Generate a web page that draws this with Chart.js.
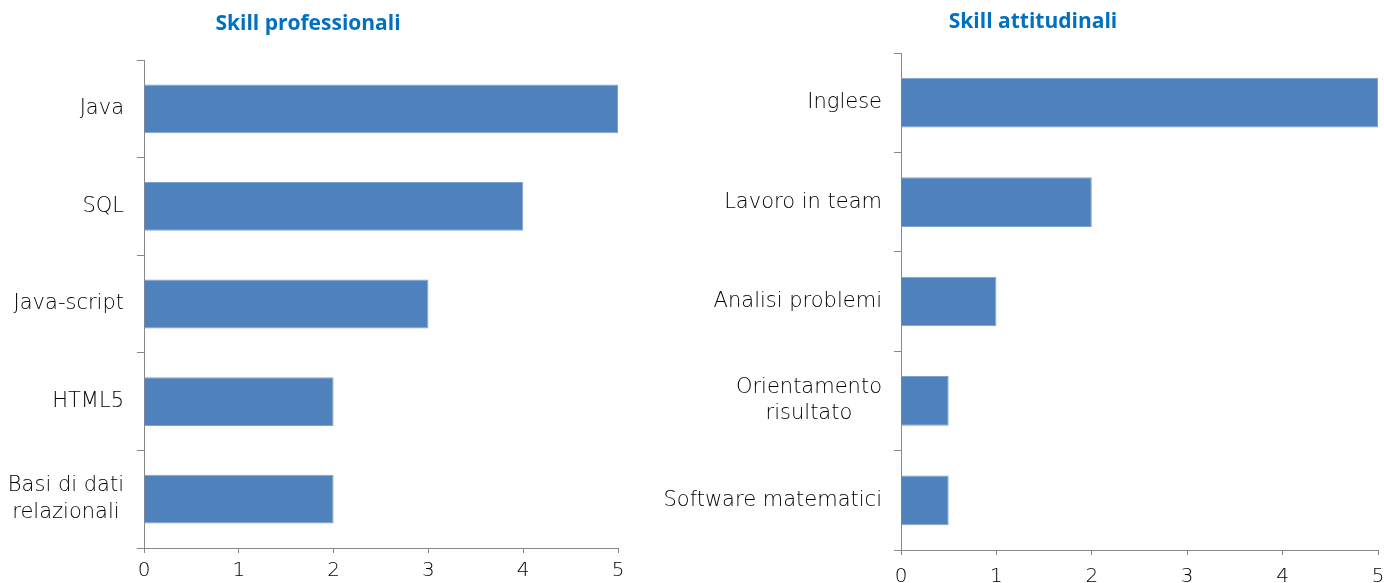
<!DOCTYPE html>
<html><head><meta charset="utf-8">
<script src="https://cdn.jsdelivr.net/npm/chart.js@4"></script>
<style>
html,body{margin:0;padding:0;background:#fff;width:1384px;height:583px;overflow:hidden}
.box{position:absolute;top:0;height:583px}
</style></head><body>
<div class="box" style="left:0;width:650px"><canvas id="c1"></canvas></div>
<div class="box" style="left:650px;width:734px"><canvas id="c2"></canvas></div>
<script>
const titleLeft = 'Skill professionali';
const categoriesLeft = [['Java'], ['SQL'], ['Java-script'], ['HTML5'], ['Basi di dati', 'relazionali']];
const valuesLeft = [5, 4, 3, 2, 2];

const titleRight = 'Skill attitudinali';
const categoriesRight = [['Inglese'], ['Lavoro in team'], ['Analisi problemi'], ['Orientamento', 'risultato'], ['Software matematici']];
const valuesRight = [5, 2, 1, 0.5, 0.5];

const xMin = 0, xMax = 5, xStep = 1;

const LABEL_FONT = '200 21px "DejaVu Sans"';
const TICK_FONT = {family: 'DejaVu Sans', size: 20, weight: 200};
const AXIS_COLOR = '#888888';
const BAR_COLOR = '#4F81BD';
const TEXT_COLOR = '#000000';

function labelsPlugin(gap, lineH) {
  return {
    id: 'catLabels',
    afterDraw(chart) {
      const ctx = chart.ctx;
      const ys = chart.scales.y;
      const right = chart.chartArea.left - gap;
      ctx.save();
      ctx.font = LABEL_FONT;
      ctx.fillStyle = TEXT_COLOR;
      ctx.textBaseline = 'middle';
      ctx.textAlign = 'center';
      chart.data.labels.forEach((lines, i) => {
        const yc = ys.getPixelForTick(i);
        const w = Math.max(...lines.map(l => ctx.measureText(l).width));
        const cx = right - w / 2;
        const y0 = yc - (lines.length - 1) * lineH / 2;
        lines.forEach((l, k) => ctx.fillText(l, cx, y0 + k * lineH));
      });
      ctx.restore();
    }
  };
}

function titlePlugin(text, cx, cy) {
  return {
    id: 'fixedTitle',
    afterDraw(chart) {
      const ctx = chart.ctx;
      ctx.save();
      ctx.font = 'bold 21px "Open Sans"';
      ctx.fillStyle = '#0070C0';
      ctx.textAlign = 'center';
      ctx.textBaseline = 'middle';
      ctx.fillText(text, cx, cy);
      ctx.restore();
    }
  };
}

function makeChart(id, cats, vals, title, g) {
  return new Chart(document.getElementById(id), {
    type: 'bar',
    data: {
      labels: cats,
      datasets: [{
        data: vals,
        backgroundColor: BAR_COLOR,
        borderColor: '#7FA2CF',
        borderWidth: 1,
        borderSkipped: 'start',
        categoryPercentage: 0.5,
        barPercentage: 1.0
      }]
    },
    options: {
      indexAxis: 'y',
      responsive: true,
      maintainAspectRatio: false,
      animation: false,
      layout: {padding: {top: g.top, right: g.right, left: 0, bottom: 0}},
      plugins: {legend: {display: false}, title: {display: false}, tooltip: {enabled: false}},
      scales: {
        x: {
          min: xMin, max: xMax,
          ticks: {stepSize: xStep, color: TEXT_COLOR, font: TICK_FONT, padding: g.tpad},
          grid: {drawOnChartArea: false, drawTicks: true, tickLength: 5, color: AXIS_COLOR},
          border: {display: true, color: AXIS_COLOR, width: 1},
          afterFit: s => { s.height = g.xh; s.paddingLeft = 0; s.paddingRight = 0; }
        },
        y: {
          ticks: {display: false},
          grid: {drawOnChartArea: false, drawTicks: true, tickLength: 7, color: AXIS_COLOR, offset: true},
          border: {display: true, color: AXIS_COLOR, width: 1},
          afterFit: s => { s.width = g.yw; s.paddingTop = 0; s.paddingBottom = 0; }
        }
      }
    },
    plugins: [labelsPlugin(g.gap, g.lineH), titlePlugin(title, g.tx, g.ty)]
  });
}

makeChart('c1', categoriesLeft, valuesLeft, titleLeft,
  {top: 60, right: 32, xh: 35, yw: 144, gap: 20, lineH: 27, tx: 308, ty: 24, tpad: 6});
makeChart('c2', categoriesRight, valuesRight, titleRight,
  {top: 53, right: 6, xh: 33, yw: 251, gap: 19, lineH: 26, tx: 383, ty: 22, tpad: 10});
</script>
</body></html>
